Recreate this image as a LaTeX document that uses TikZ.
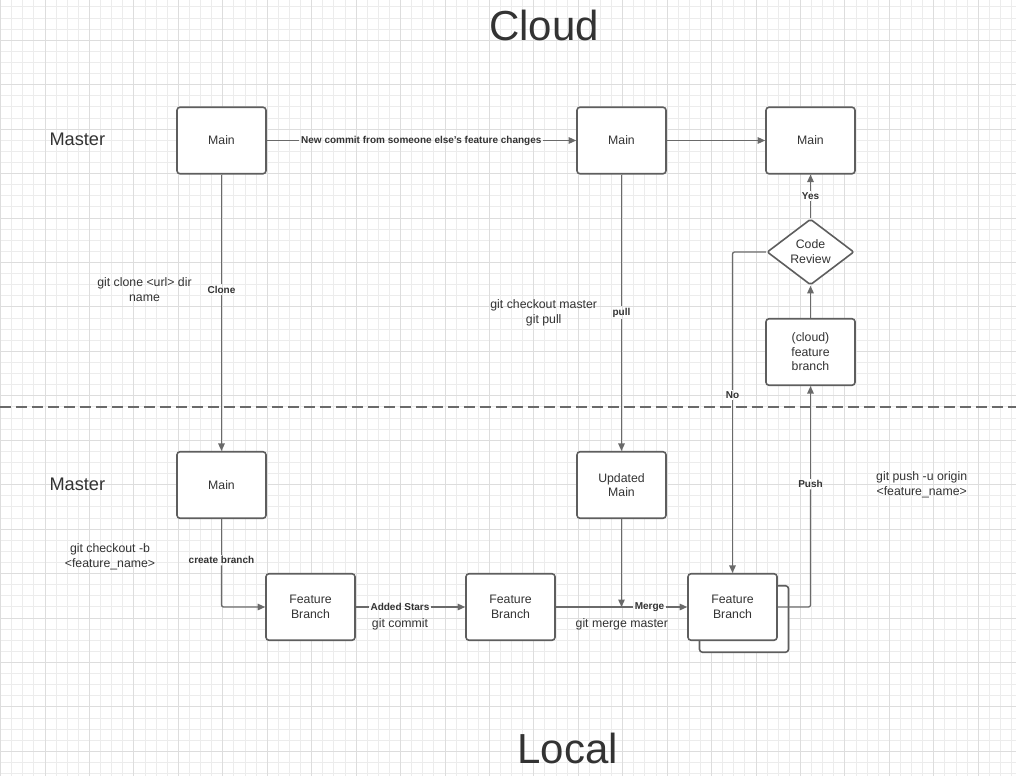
\documentclass[tikz,border=0pt]{standalone}
\usepackage{fontspec}
\setmainfont{Liberation Sans}
\usetikzlibrary{arrows.meta,shapes.geometric}
\definecolor{txt}{HTML}{333333}
\definecolor{strokecol}{HTML}{5E5E5E}
\definecolor{conncol}{HTML}{6A6A6A}
\definecolor{gmin}{HTML}{ECECEC}
\definecolor{gmaj}{HTML}{DDDDDD}
\begin{document}
\begin{tikzpicture}[x=1pt,y=-1pt,
  box/.style={draw=strokecol, line width=1.6pt, fill=white, rounded corners=3pt,
    minimum width=89pt, minimum height=66.5pt, text=txt,
    font=\fontsize{12.3}{14.5}\selectfont, align=center, inner sep=0pt},
  dia/.style={diamond, draw=strokecol, line width=1.6pt, fill=white, rounded corners=2pt,
    minimum width=87pt, minimum height=66pt, aspect=1.32, text=txt,
    font=\fontsize{12.3}{15}\selectfont, align=center, inner sep=0pt},
  conn/.style={draw=conncol, line width=1.3pt},
  arr/.style={conn, -{Triangle[length=7.5pt,width=6.5pt]}},
  elab/.style={font=\bfseries\fontsize{10}{12}\selectfont, text=txt, inner sep=1.5pt},
  note/.style={font=\fontsize{12.3}{15}\selectfont, text=txt, align=center, inner sep=0pt},
  title/.style={font=\fontsize{42}{50}\selectfont, text=txt, inner sep=0pt, anchor=base},
  sect/.style={font=\fontsize{18.2}{22}\selectfont, text=txt, inner sep=0pt, anchor=base west},
  gridmin/.style={draw=gmin, line width=1pt},
  gridmaj/.style={draw=gmaj, line width=1pt},
  divider/.style={draw=conncol, line width=1.2pt, dash pattern=on 11pt off 5pt}
]
\useasboundingbox (0,0) rectangle (1016,776);
\fill[white] (0,0) rectangle (1016,776);
% grid
\foreach \i in {0,...,91} { \draw[gridmin] ({0.6+11.11*\i},0) -- ({0.6+11.11*\i},776); }
\foreach \i in {0,...,69} { \draw[gridmin] (0,{7.0+11.11*\i}) -- (1016,{7.0+11.11*\i}); }
\foreach \i in {0,...,22} { \draw[gridmaj] ({0.6+44.44*\i},0) -- ({0.6+44.44*\i},776); }
\foreach \i in {1,...,17} { \draw[gridmaj] (0,{-4.14+44.44*\i}) -- (1016,{-4.14+44.44*\i}); }

% divider
\coordinate (dl) at (0,407);
\coordinate (dr) at (1016,407);
\draw[divider] (dl) -- (dr);

% titles
\node[title] (tcloud) at (544,40.5) {Cloud};
\node[title] (tlocal) at (567.5,763.3) {Local};
\node[sect] (mas1) at (49.3,145) {Master};
\node[sect] (mas2) at (49.3,490) {Master};

% nodes
\node[box] (m1) at (221.5,140.5) {Main};
\node[box] (m2) at (621.5,140.5) {Main};
\node[box] (m3) at (810.5,140.5) {Main};
\node[dia] (cr) at (810.5,252) {Code\\Review};
\node[box] (cf) at (810.5,352) {(cloud)\\feature\\branch};
\node[box] (ml) at (221.5,485) {Main};
\node[box] (um) at (621.5,485) {Updated\\Main};
\node[box] (f1) at (310.5,607) {Feature\\Branch};
\node[box] (f2) at (510.5,607) {Feature\\Branch};
\node[box] (f3s) at (744,619) {};
\node[box] (f3) at (732.5,607) {Feature\\Branch};

% notes
\node[note] (n1) at (144.5,289.5) {git clone <url> dir\\name};
\node[note] (n2) at (543.7,313) {git checkout master\\git pull};
\node[note] (n3) at (110,557) {git checkout -b\\<feature\_name>};
\node[note] (n4) at (921.7,485) {git push -u origin\\<feature\_name>};
\node[note] (n5) at (400,624.5) {git commit};
\node[note] (n6) at (621.8,624.5) {git merge master};

% edge labels
\node[elab] (lnew) at (421.3,140.5) {New commit from someone else{\char"27}s feature changes};
\node[elab] (lclone) at (221.5,289.5) {Clone};
\node[elab] (lpull) at (621.5,312.8) {pull};
\node[elab] (lcb) at (221.5,560) {create branch};
\node[elab] (las) at (400,607) {Added Stars};
\node[elab] (lmg) at (649.5,607) {Merge};
\node[elab] (lpush) at (810.5,484) {Push};
\node[elab] (lyes) at (810.5,195.7) {Yes};
\node[elab] (lno) at (732.5,395) {No};

% connectors
\draw[conn] (m1.east) -- (lnew.west);
\draw[arr] (lnew.east) -- (m2.west);
\draw[arr] (m2.east) -- (m3.west);
\draw[conn] (m1.south) -- (lclone.north);
\draw[arr] (lclone.south) -- (ml.north);
\draw[conn] (m2.south) -- (lpull.north);
\draw[arr] (lpull.south) -- (um.north);
\draw[conn] (ml.south) -- (lcb.north);
\draw[arr, rounded corners=2pt] (lcb.south) |- (f1.west);
\draw[conn] (f1.east) -- (las.west);
\draw[arr] (las.east) -- (f2.west);
\draw[conn] (f2.east) -- (lmg.west);
\draw[arr] (lmg.east) -- (f3.west);
\coordinate (mp) at (um.south |- f2.east);
\draw[arr] (um.south) -- (mp);
\draw[conn, rounded corners=2pt] (f3.east) -| (lpush.south);
\draw[arr] (lpush.north) -- (cf.south);
\draw[arr] (cf.north) -- (cr.south);
\draw[conn] (cr.north) -- (lyes.south);
\draw[arr] (lyes.north) -- (m3.south);
\draw[conn, rounded corners=2pt] (cr.west) -| (lno.north);
\draw[arr] (lno.south) -- (f3.north);
\end{tikzpicture}
\end{document}
